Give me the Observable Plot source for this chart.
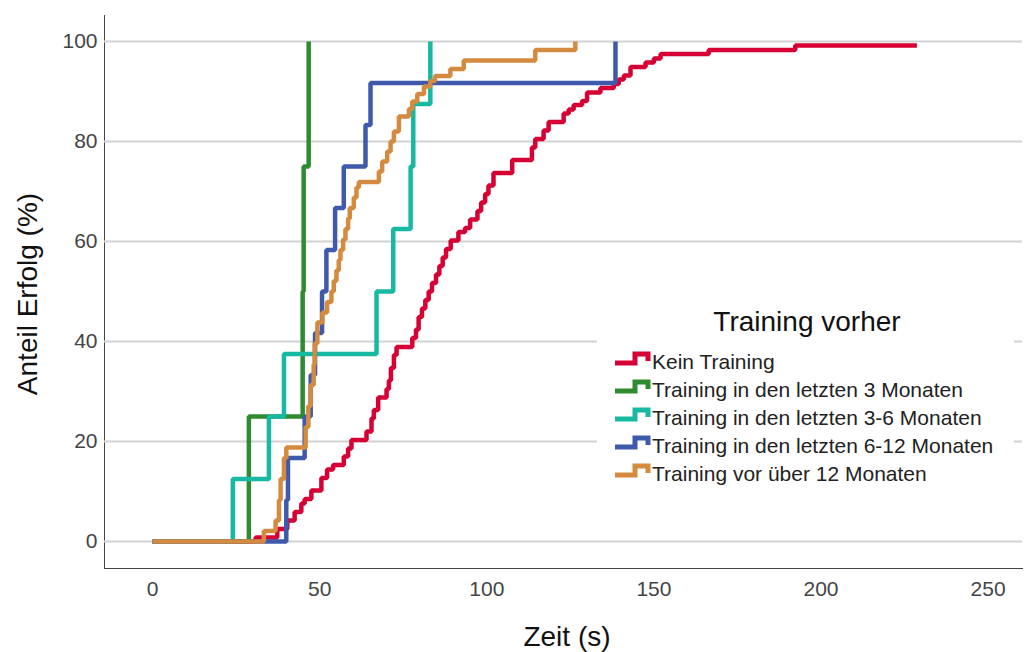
<!DOCTYPE html>
<html>
<head>
<meta charset="utf-8">
<script src="https://cdn.jsdelivr.net/npm/d3@7"></script>
<script src="https://cdn.jsdelivr.net/npm/@observablehq/plot@0.6"></script>
<style>
  html, body { margin: 0; padding: 0; background: #fff; }
  #wrap { position: relative; width: 1024px; height: 652px; font-family: "Liberation Sans", Arial, sans-serif; overflow: hidden; }
  #wrap svg.plot { position: absolute; left: 0; top: 0; }
  #overlay { position: absolute; left: 0; top: 0; pointer-events: none; }
</style>
</head>
<body>
<div id="wrap"></div>
<script>
// ---- data ----
const seriesNames = [
  "Kein Training",
  "Training in den letzten 3 Monaten",
  "Training in den letzten 3-6 Monaten",
  "Training in den letzten 6-12 Monaten",
  "Training vor über 12 Monaten"
];
const seriesColors = ["#d70034", "#2e8b30", "#17b9a2", "#3f5aad", "#d48a3f"];

const keinT = [0,30.8,37.3,40.3,42.5,44.5,45.5,47.5,50.5,52.2,54,57.2,58.5,59.5,64,65.5,66.2,67.5,70,70.7,71.3,72.2,73,77.7,78.8,79.6,80.6,81.6,82.6,83.6,84.8,85.8,86.8,87.8,89.2,91.5,93.5,95,97.2,98.3,99.5,100.5,102,107.6,113.5,114.5,117,118.5,123,124.5,126,128.5,130,134,138,139.5,141,143,147.5,150,152,166.4,192.3,228.7];
const keinP = [0,0.8,2.5,4.2,5.9,7.6,8.5,10.2,12.7,14.4,15.3,17,18.6,20.3,22,24.6,26.3,28.8,30.5,32.2,34.7,37.3,38.9,40.7,42.4,44.9,46.6,48.3,50,51.7,53.4,55.1,56.8,58.5,60.2,61.9,62.7,64.4,66.1,67.8,69.5,71.2,73.7,76.3,78.8,80.5,82.2,83.9,85.6,86.4,87.3,88.1,89.8,90.7,91.5,92.4,93.2,94.9,95.8,96.6,97.5,98.3,99.2,99.2];

const m3T = [0,28.8,44.9,45.2,46.7];
const m3P = [0,25,50,75,100];

const m36T = [0,24,34.8,39.3,67,72,77.2,78,83.1];
const m36P = [0,12.5,25,37.5,50,62.5,75,87.5,100];

const m612T = [0,40,40.5,45.5,47.3,48.6,50.7,52,54.6,57.2,63.7,65.2,138.5];
const m612P = [0,8.3,16.7,25,33.3,41.7,50,58.3,66.7,75,83.3,91.7,100];

const m12T = [0,33.3,36.8,37.8,38.3,39.3,40,45.8,46.6,47.3,48.2,48.5,49.3,50.8,52.2,53.5,54.2,55,55.7,56.2,57,57.7,58.5,59,60.2,61,61.7,67.7,68.7,70.2,71.2,72.2,73.7,76.7,77.7,79.2,81.2,83.1,84.5,89.1,93.1,114.5,126.5];
const m12P = [0,2.1,4.2,8.3,12.5,16.7,18.8,22.9,27.1,31.3,35.4,39.6,43.8,45.8,47.9,50,52.1,54.2,56.3,58.3,60.4,62.5,64.6,66.7,68.8,70.8,71.9,74,76,78,80,82,85,86.5,88,89.5,91,92.1,93.1,94.5,96.2,98.3,100];

const xTicks = [0, 50, 100, 150, 200, 250];
const yTicks = [0, 20, 40, 60, 80, 100];
const xLabel = "Zeit (s)";
const yLabel = "Anteil Erfolg (%)";
const legendTitle = "Training vorher";

// ---- build table ----
const seriesT = [keinT, m3T, m36T, m612T, m12T];
const seriesP = [keinP, m3P, m36P, m612P, m12P];
const rows = [];
seriesNames.forEach((name, i) => {
  seriesT[i].forEach((t, j) => rows.push({series: name, t, p: seriesP[i][j]}));
});

const W = 1024, H = 652;
const chart = Plot.plot({
  width: W, height: H,
  marginLeft: 104, marginRight: 2, marginTop: 15, marginBottom: 84,
  style: {fontFamily: '"Liberation Sans", Arial, sans-serif', fontSize: "21px", color: "#444", background: "#fff", overflow: "visible"},
  x: {domain: [-14.4, 260.3], ticks: xTicks, tickSize: 0, tickPadding: 13, line: true, label: null},
  y: {domain: [-5.4, 105.2], ticks: yTicks, tickSize: 0, tickPadding: 7, line: true, label: null},
  color: {domain: seriesNames, range: seriesColors},
  marks: [
    Plot.ruleY(yTicks, {stroke: "#d2d2d2", strokeWidth: 2}),
    Plot.line(rows, {x: "t", y: "p", z: "series", stroke: "series", curve: "step-after",
      strokeWidth: 4.5, strokeLinejoin: "miter", strokeLinecap: "butt"})
  ]
});
chart.classList.add("plot");
const wrap = document.getElementById("wrap");
wrap.appendChild(chart);

// ---- overlay: axis titles and legend ----
const ns = "http://www.w3.org/2000/svg";
const ov = document.createElementNS(ns, "svg");
ov.setAttribute("id", "overlay");
ov.setAttribute("width", W);
ov.setAttribute("height", H);
ov.setAttribute("font-family", '"Liberation Sans", Arial, sans-serif');
wrap.appendChild(ov);

function txt(str, x, y, size, anchor, fill, transform) {
  const t = document.createElementNS(ns, "text");
  t.setAttribute("x", x); t.setAttribute("y", y);
  t.setAttribute("font-size", size);
  t.setAttribute("text-anchor", anchor);
  t.setAttribute("fill", fill);
  if (transform) t.setAttribute("transform", transform);
  t.textContent = str;
  ov.appendChild(t);
  return t;
}

txt(xLabel, 567, 646, 28, "middle", "#111");
txt(yLabel, 0, 0, 28, "middle", "#111", "translate(37,294) rotate(-90)");

// legend box
const box = document.createElementNS(ns, "rect");
box.setAttribute("x", 597); box.setAttribute("y", 298);
box.setAttribute("width", 417); box.setAttribute("height", 200);
box.setAttribute("fill", "#fff");
ov.appendChild(box);

txt(legendTitle, 807, 331, 28, "middle", "#111");
seriesNames.forEach((name, i) => {
  const b = 369 + i * 28;
  const path = document.createElementNS(ns, "path");
  path.setAttribute("d", `M615,${b - 6}H635V${b - 15}H648V${b - 8}`);
  path.setAttribute("fill", "none");
  path.setAttribute("stroke", seriesColors[i]);
  path.setAttribute("stroke-width", 5);
  path.setAttribute("stroke-linejoin", "miter");
  ov.appendChild(path);
  txt(name, 652, b, 21, "start", "#222");
});
</script>
</body>
</html>
